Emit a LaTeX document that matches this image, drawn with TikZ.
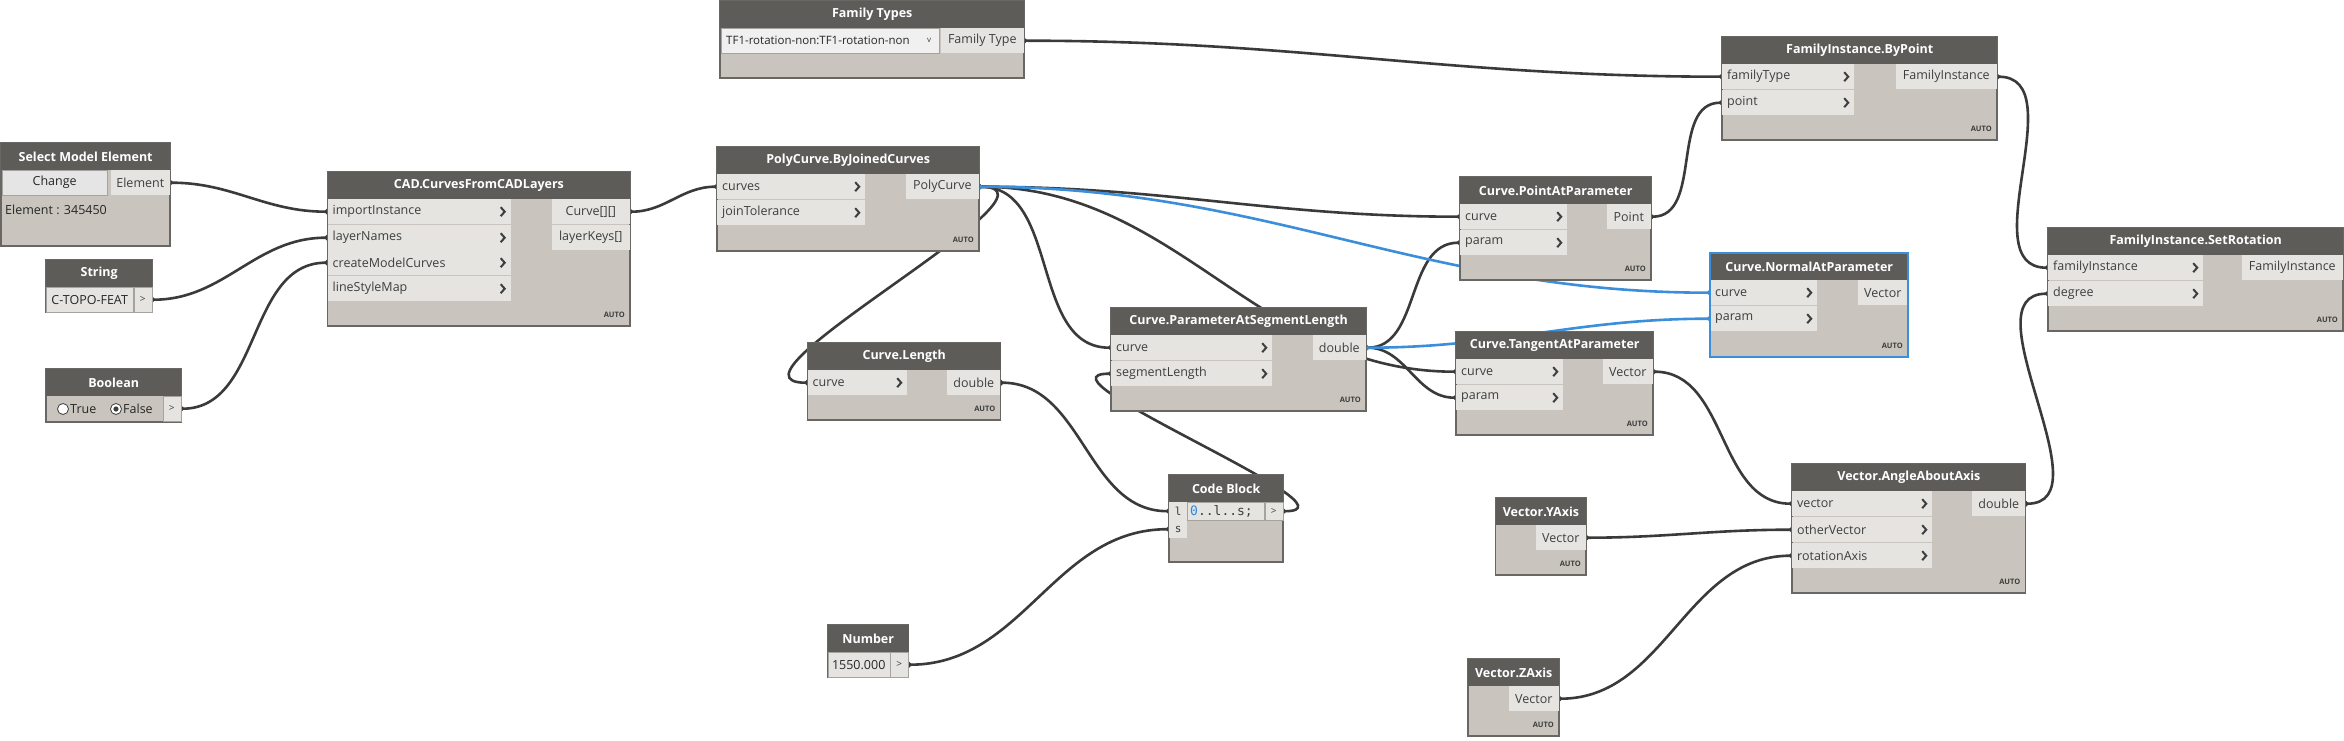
\documentclass[tikz,border=0pt]{standalone}
\usepackage{fontspec}
\setmainfont{Open Sans}
\newfontfamily\monofont{DejaVu Sans Mono}
\usetikzlibrary{arrows.meta}

\definecolor{titlefill}{RGB}{94,92,89}
\definecolor{bodyfill}{RGB}{201,197,190}
\definecolor{portfill}{RGB}{229,228,225}
\definecolor{nodeline}{RGB}{105,103,100}
\definecolor{porttext}{RGB}{62,62,62}
\definecolor{wirecol}{RGB}{58,58,58}
\definecolor{selblue}{RGB}{58,142,218}
\definecolor{codeblue}{RGB}{40,140,225}
\definecolor{fieldline}{RGB}{165,163,160}

\newcommand{\titlesize}{\fontsize{12.5}{14}\bfseries\selectfont}
\newcommand{\portsize}{\fontsize{12.5}{14}\selectfont}
\newcommand{\autosize}{\fontsize{7.5}{8}\bfseries\selectfont}

\pgfdeclarelayer{wires}
\pgfsetlayers{wires,main}

\tikzset{
  body/.style={draw=nodeline, fill=bodyfill, line width=1.2pt, anchor=north west, inner sep=0pt, outer sep=0pt},
  titlebar/.style={fill=titlefill, text=white, font=\titlesize, anchor=north west, inner sep=0pt, minimum height=27},
  inport/.style={fill=portfill, text=porttext, font=\portsize, anchor=north west, inner xsep=5pt, inner ysep=0pt,
    minimum height=25, text width=#1, align=left,
    path picture={\draw[chevline] ([xshift=-10pt,yshift=4.5pt]path picture bounding box.east) -- ++(4pt,-4.5pt) -- ++(-4pt,-4.5pt);}},
  outport/.style={fill=portfill, text=porttext, font=\portsize, anchor=north east, inner sep=0pt, minimum height=25, minimum width=#1},
  chevline/.style={draw=porttext, line width=2pt},
  autotag/.style={font=\autosize, text=porttext, anchor=east, inner sep=0pt},
  note/.style={font=\portsize, text=black!85, anchor=west, inner sep=0pt},
  field/.style={fill=portfill, draw=fieldline, text=black!85, font=\portsize, anchor=north west, inner sep=0pt, minimum height=25},
  gocell/.style={fill=portfill, draw=fieldline, text=porttext, font=\fontsize{10}{10}\selectfont, anchor=north east, inner sep=0pt, minimum height=25, minimum width=18},
  button/.style={fill=black!10, draw=fieldline, text=black!85, font=\portsize, anchor=north west, inner sep=0pt, minimum height=25},
  dropdown/.style={fill=black!6, draw=fieldline, text=black!85, font=\fontsize{11.5}{13}\selectfont, anchor=north west,
    inner xsep=5pt, inner ysep=0pt, minimum height=25, text width=#1, align=left},
  cbport/.style={fill=portfill, text=porttext, font=\monofont\fontsize{11}{12}\selectfont, anchor=north west, inner sep=0pt, minimum width=18, minimum height=18},
  codecell/.style={fill=portfill, draw=fieldline, text=porttext, font=\monofont\fontsize{13}{14}\selectfont, anchor=north west,
    inner xsep=3pt, inner ysep=0pt, minimum height=18, text width=71, align=left},
  radio/.style={draw=porttext, fill=white, line width=0.8pt},
  selframe/.style={draw=selblue, line width=2pt},
  wire/.style={draw=wirecol, line width=2.6pt, out=0, in=180, arrows={Circle[length=6pt]-Circle[length=6pt]},
    shorten <=-3pt, shorten >=-3pt},
  selwire/.style={wire, draw=selblue},
}

\begin{document}
\begin{tikzpicture}[x=1pt,y=-1pt]
\useasboundingbox (0,0) rectangle (2344,741);

% Select Model Element
\node[body, minimum width=169, minimum height=103] (sme) at (1,143) {};
\node[titlebar, minimum width=169] (sme-t) at (sme.north west) {Select Model Element};
\node[button, minimum width=105] (sme-btn) at (2,170) {Change};
\node[outport=59] (sme-out) at (170,170) {Element};
\node[note] (sme-val) at (5,210) {Element : 345450};

% String
\node[body, minimum width=106, minimum height=52] (str) at (46,260) {};
\node[titlebar, minimum width=106] (str-t) at (str.north west) {String};
\node[field, minimum width=87] (str-val) at (46,287) {C-TOPO-FEAT};
\node[gocell] (str-out) at (152,287) {>};

% Boolean
\node[body, minimum width=135, minimum height=53] (bool) at (46,369) {};
\node[titlebar, minimum width=135] (bool-t) at (bool.north west) {Boolean};
\node[gocell] (bool-out) at (181,396) {>};
\node[note] (bool-true) at (70,409) {True};
\node[note] (bool-false) at (123,409) {False};
\draw[radio] (63,409) circle (5.5pt);
\draw[radio] (116,409) circle (5.5pt);
\fill[porttext] (116,409) circle (2.6pt);

% CAD.CurvesFromCADLayers
\node[body, minimum width=302.5, minimum height=154] (cad) at (327.5,172) {};
\node[titlebar, minimum width=302.5] (cad-t) at (cad.north west) {CAD.CurvesFromCADLayers};
\node[inport=173] (cad-in1) at (327.5,199) {importInstance};
\node[inport=173] (cad-in2) at (327.5,225) {layerNames};
\node[inport=173] (cad-in3) at (327.5,250) {createModelCurves};
\node[inport=173] (cad-in4) at (327.5,276) {lineStyleMap};
\node[outport=78] (cad-out1) at (630,199) {Curve[][]};
\node[outport=78] (cad-out2) at (630,225) {layerKeys[]};
\node[autotag] (cad-a) at ([xshift=-5pt,yshift=11pt]cad.south east) {AUTO};

% Family Types
\node[body, minimum width=304, minimum height=77] (ft) at (720,1) {};
\node[titlebar, minimum width=304] (ft-t) at (ft.north west) {Family Types};
\node[dropdown=208] (ft-sel) at (721,28) {TF1-rotation-non:TF1-rotation-non};
\node[text=porttext, font=\fontsize{8}{8}\selectfont, inner sep=0pt] (ft-arr) at (929,40) {v};
\node[outport=83] (ft-out) at (1024,28) {Family Type};

% PolyCurve.ByJoinedCurves
\node[body, minimum width=262, minimum height=104] (pc) at (717,147) {};
\node[titlebar, minimum width=262] (pc-t) at (pc.north west) {PolyCurve.ByJoinedCurves};
\node[inport=138] (pc-in1) at (717,174) {curves};
\node[inport=138] (pc-in2) at (717,200) {joinTolerance};
\node[outport=73] (pc-out) at (979,174) {PolyCurve};
\node[autotag] (pc-a) at ([xshift=-5pt,yshift=11pt]pc.south east) {AUTO};

% Curve.Length
\node[body, minimum width=193, minimum height=77] (len) at (807.5,343) {};
\node[titlebar, minimum width=193] (len-t) at (len.north west) {Curve.Length};
\node[inport=89.5] (len-in1) at (807.5,370) {curve};
\node[outport=53] (len-out) at (1000.5,370) {double};
\node[autotag] (len-a) at ([xshift=-5pt,yshift=11pt]len.south east) {AUTO};

% Curve.ParameterAtSegmentLength
\node[body, minimum width=255, minimum height=103] (psl) at (1111,308) {};
\node[titlebar, minimum width=255] (psl-t) at (psl.north west) {Curve.ParameterAtSegmentLength};
\node[inport=151] (psl-in1) at (1111,335) {curve};
\node[inport=151] (psl-in2) at (1111,361) {segmentLength};
\node[outport=53] (psl-out) at (1366,335) {double};
\node[autotag] (psl-a) at ([xshift=-5pt,yshift=11pt]psl.south east) {AUTO};

% Code Block
\node[body, minimum width=114, minimum height=87] (cb) at (1169,475) {};
\node[titlebar, minimum width=114] (cb-t) at (cb.north west) {Code Block};
\node[cbport] (cb-in1) at (1169,502) {l};
\node[cbport] (cb-in2) at (1169,520) {s};
\node[codecell] (cb-code) at (1187,502) {\textcolor{codeblue}{0}..l..s;};
\node[gocell, minimum height=18] (cb-out) at (1283,502) {>};

% Number
\node[body, minimum width=81, minimum height=52] (num) at (827.5,625) {};
\node[titlebar, minimum width=81] (num-t) at (num.north west) {Number};
\node[field, minimum width=62] (num-val) at (827.5,652) {1550.000};
\node[gocell] (num-out) at (908.5,652) {>};

% Curve.PointAtParameter
\node[body, minimum width=191, minimum height=103] (pap) at (1460,177) {};
\node[titlebar, minimum width=191] (pap-t) at (pap.north west) {Curve.PointAtParameter};
\node[inport=97] (pap-in1) at (1460,204) {curve};
\node[inport=97] (pap-in2) at (1460,230) {param};
\node[outport=44] (pap-out) at (1651,204) {Point};
\node[autotag] (pap-a) at ([xshift=-5pt,yshift=11pt]pap.south east) {AUTO};

% Curve.TangentAtParameter
\node[body, minimum width=197, minimum height=103] (tap) at (1456,332) {};
\node[titlebar, minimum width=197] (tap-t) at (tap.north west) {Curve.TangentAtParameter};
\node[inport=97] (tap-in1) at (1456,359) {curve};
\node[inport=97] (tap-in2) at (1456,385) {param};
\node[outport=50] (tap-out) at (1653,359) {Vector};
\node[autotag] (tap-a) at ([xshift=-5pt,yshift=11pt]tap.south east) {AUTO};

% Curve.NormalAtParameter (selected)
\node[body, minimum width=198, minimum height=104] (nap) at (1710,253) {};
\node[titlebar, minimum width=198] (nap-t) at (nap.north west) {Curve.NormalAtParameter};
\node[inport=97] (nap-in1) at (1710,280) {curve};
\node[inport=97] (nap-in2) at (1710,306) {param};
\node[outport=50] (nap-out) at (1908,280) {Vector};
\node[autotag] (nap-a) at ([xshift=-5pt,yshift=11pt]nap.south east) {AUTO};
\draw[selframe] (nap.north west) rectangle (nap.south east);

% FamilyInstance.ByPoint
\node[body, minimum width=275, minimum height=103] (bp) at (1722,37) {};
\node[titlebar, minimum width=275] (bp-t) at (bp.north west) {FamilyInstance.ByPoint};
\node[inport=122] (bp-in1) at (1722,64) {familyType};
\node[inport=122] (bp-in2) at (1722,90) {point};
\node[outport=101] (bp-out) at (1997,64) {FamilyInstance};
\node[autotag] (bp-a) at ([xshift=-5pt,yshift=11pt]bp.south east) {AUTO};

% FamilyInstance.SetRotation
\node[body, minimum width=295, minimum height=103] (sr) at (2048,228) {};
\node[titlebar, minimum width=295] (sr-t) at (sr.north west) {FamilyInstance.SetRotation};
\node[inport=145] (sr-in1) at (2048,255) {familyInstance};
\node[inport=145] (sr-in2) at (2048,281) {degree};
\node[outport=101] (sr-out) at (2343,255) {FamilyInstance};
\node[autotag] (sr-a) at ([xshift=-5pt,yshift=11pt]sr.south east) {AUTO};

% Vector.YAxis
\node[body, minimum width=90.5, minimum height=77] (yax) at (1495.5,498) {};
\node[titlebar, minimum width=90.5] (yax-t) at (yax.north west) {Vector.YAxis};
\node[outport=50] (yax-out) at (1586,525) {Vector};
\node[autotag] (yax-a) at ([xshift=-5pt,yshift=11pt]yax.south east) {AUTO};

% Vector.ZAxis
\node[body, minimum width=91, minimum height=77] (zax) at (1468,659) {};
\node[titlebar, minimum width=91] (zax-t) at (zax.north west) {Vector.ZAxis};
\node[outport=50] (zax-out) at (1559,686) {Vector};
\node[autotag] (zax-a) at ([xshift=-5pt,yshift=11pt]zax.south east) {AUTO};

% Vector.AngleAboutAxis
\node[body, minimum width=233.5, minimum height=129] (aaa) at (1792,464) {};
\node[titlebar, minimum width=233.5] (aaa-t) at (aaa.north west) {Vector.AngleAboutAxis};
\node[inport=130] (aaa-in1) at (1792,491) {vector};
\node[inport=130] (aaa-in2) at (1792,517) {otherVector};
\node[inport=130] (aaa-in3) at (1792,543) {rotationAxis};
\node[outport=53] (aaa-out) at (2025.5,491) {double};
\node[autotag] (aaa-a) at ([xshift=-5pt,yshift=11pt]aaa.south east) {AUTO};

% wires go under the nodes
\begin{pgfonlayer}{wires}
\foreach \a/\b in {sme-out/cad-in1, str-out/cad-in2, bool-out/cad-in3, cad-out1/pc-in1,
    ft-out/bp-in1, pc-out/pap-in1, pc-out/len-in1, pc-out/psl-in1, pc-out/tap-in1,
    psl-out/pap-in2, psl-out/tap-in2, len-out/cb-in1, num-out/cb-in2, cb-out/psl-in2,
    pap-out/bp-in2, bp-out/sr-in1, tap-out/aaa-in1, yax-out/aaa-in2, zax-out/aaa-in3, aaa-out/sr-in2}
  \draw[wire] (\a.east) to (\b.west);
\draw[selwire] (pc-out.east) to (nap-in1.west);
\draw[selwire] (psl-out.east) to (nap-in2.west);
\end{pgfonlayer}
\end{tikzpicture}
\end{document}
